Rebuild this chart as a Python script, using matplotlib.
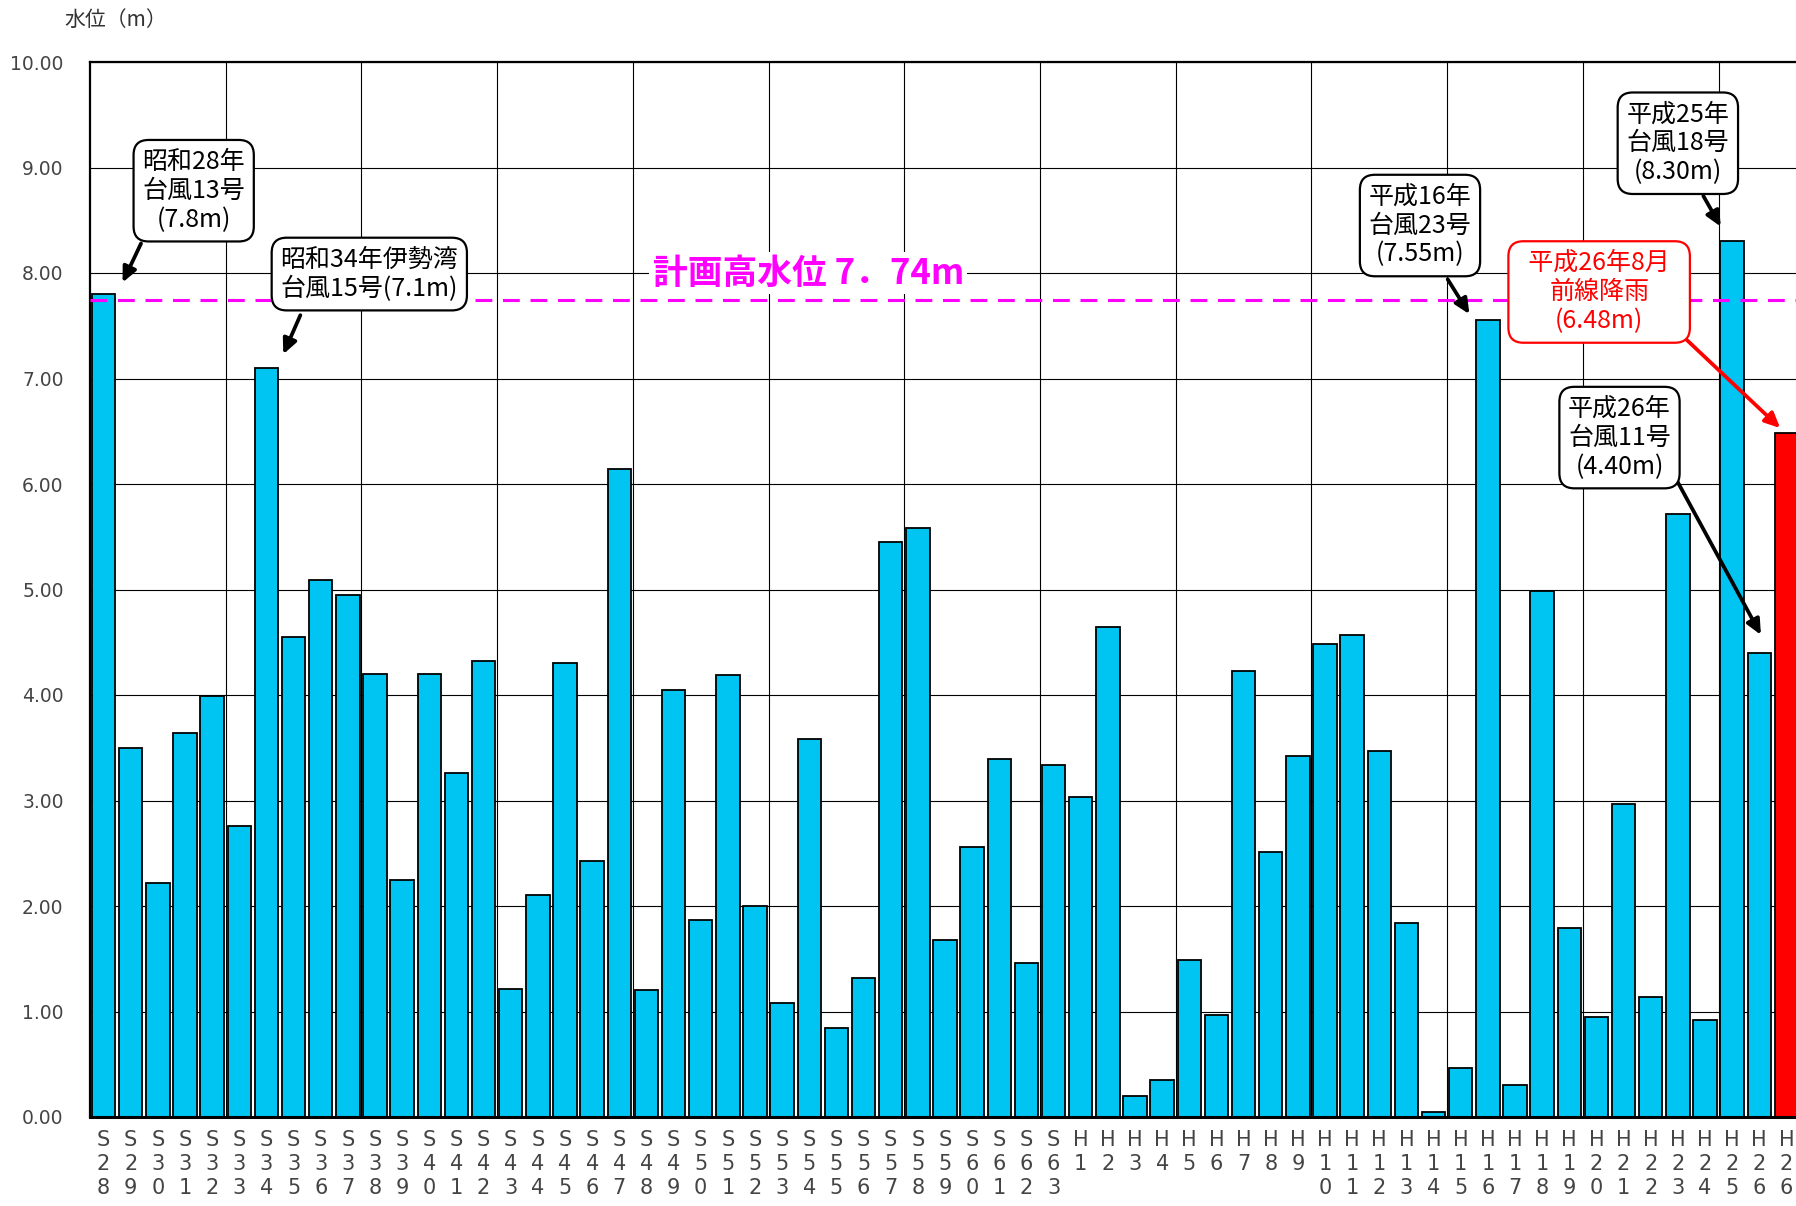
import numpy as np
import matplotlib
matplotlib.use("Agg")
import matplotlib.pyplot as plt
from matplotlib.ticker import FormatStrFormatter

plt.rcParams["font.family"] = ["Noto Sans CJK JP", "DejaVu Sans"]

# ---------------- data ----------------
eras = ["S"] * 36 + ["H"] * 27
years = list(range(28, 64)) + list(range(1, 27)) + [26]
levels = [7.80, 3.50, 2.22, 3.64, 3.99, 2.76, 7.10, 4.55, 5.09, 4.95,
          4.20, 2.25, 4.20, 3.26, 4.32, 1.21, 2.10, 4.30, 2.43, 6.14,
          1.20, 4.05, 1.87, 4.19, 2.00, 1.08, 3.58, 0.84, 1.32, 5.45,
          5.58, 1.68, 2.56, 3.39, 1.46, 3.34,
          3.03, 4.64, 0.20, 0.35, 1.49, 0.97, 4.23, 2.51, 3.42, 4.48,
          4.57, 3.47, 1.84, 0.05, 0.46, 7.55, 0.30, 4.99, 1.79, 0.95,
          2.97, 1.14, 5.72, 0.92, 8.30, 4.40, 6.48]
highlight = [False] * 62 + [True]
plan_level = 7.74
plan_label = "計画高水位 7．74m"
y_label = "水位（m）"

# annotation texts and the bar each one points to
notes = [
    ("昭和28年\n台風13号\n(7.8m)", 0),
    ("昭和34年伊勢湾\n台風15号(7.1m)", 6),
    ("平成16年\n台風23号\n(7.55m)", 51),
    ("平成25年\n台風18号\n(8.30m)", 60),
    ("  平成26年8月  \n前線降雨\n(6.48m)", 62),
    ("平成26年\n台風11号\n(4.40m)", 61),
]

# ---------------- layout of the callouts (text centre, arrow tail, head offset) ----------------
note_pos = [(3.32, 8.78), (9.79, 7.99), (48.5, 8.45), (58.0, 9.23), (55.1, 7.82), (55.85, 6.44)]
note_tail = [(1.38, 8.28), (7.25, 7.60), (49.52, 7.94), (58.94, 8.73), (58.31, 7.37), (57.97, 6.03)]
head_off = [(0.70, 0.11), (0.62, 0.13), (-0.68, 0.06), (-0.42, 0.14), (-0.23, 0.05), (0.06, 0.17)]

BAR_COLOR = "#00C4F2"
HI_COLOR = "#FF0000"
PLAN_COLOR = "#FF00FF"

W, H = 1796, 1206
fig = plt.figure(figsize=(W / 100, H / 100), dpi=100)
ax = fig.add_axes([90 / W, 1 - 1117 / H, (1800 - 90) / W, (1117 - 62) / H])

x = np.arange(len(levels))
colors = [HI_COLOR if h else BAR_COLOR for h in highlight]
ax.bar(x, levels, width=0.86, color=colors, edgecolor="black", linewidth=1.3, zorder=2)

ax.set_xlim(-0.5, len(levels) - 0.5)
ax.set_ylim(0, 10)

# grid
ax.set_yticks(np.arange(0, 11, 1))
ax.yaxis.set_major_formatter(FormatStrFormatter("%.2f"))
ax.set_xticks(np.arange(4.5, len(levels) - 0.5, 5), minor=True)
ax.grid(axis="y", which="major", color="black", linewidth=0.8)
ax.grid(axis="x", which="minor", color="black", linewidth=0.8)
ax.set_axisbelow(True)

# tick labels
labels = [era + "\n" + "\n".join(str(y)) for era, y in zip(eras, years)]
ax.set_xticks(x)
ax.set_xticklabels(labels)
ax.tick_params(axis="x", which="both", length=0, pad=9, labelsize=15, labelcolor="#444444")
ax.tick_params(axis="y", length=0, pad=19, labelsize=13.5, labelcolor="#444444")
for lbl in ax.get_xticklabels():
    lbl.set_fontfamily("DejaVu Sans")
    lbl.set_linespacing(1.25)
for lbl in ax.get_yticklabels():
    lbl.set_fontfamily("DejaVu Sans")

for side in ["top", "left"]:
    ax.spines[side].set_linewidth(1.6)
ax.spines["bottom"].set_linewidth(2.2)
ax.spines["right"].set_visible(False)

# plan high water level
ax.axhline(plan_level, color=PLAN_COLOR, linewidth=2.2, dashes=(5.5, 3.5), zorder=5)
ax.text(25.96, 8.0, plan_label, fontsize=25, fontweight="bold", color=PLAN_COLOR,
        ha="center", va="center", zorder=4,
        bbox=dict(boxstyle="square,pad=0.1", fc="white", ec="none"))

# callouts
for (txt, idx), pos, tail, off in zip(notes, note_pos, note_tail, head_off):
    col = HI_COLOR if highlight[idx] else "black"
    head = (x[idx] + off[0], levels[idx] + off[1])
    ax.annotate("", xy=head, xytext=tail, zorder=6,
                arrowprops=dict(arrowstyle="-|>,head_length=0.9,head_width=0.42",
                                color=col, lw=2.7, shrinkA=0, shrinkB=0))
    ax.text(pos[0], pos[1], txt, ha="center", va="center", fontsize=18,
            linespacing=1.15, color=col, zorder=7,
            bbox=dict(boxstyle="round,pad=0.35,rounding_size=0.6",
                      fc="white", ec=col, lw=1.6))

fig.text(64 / W, 1 - 20 / H, y_label, fontsize=15, color="#333333", ha="left", va="center")

fig.savefig("out.png", dpi=100)
